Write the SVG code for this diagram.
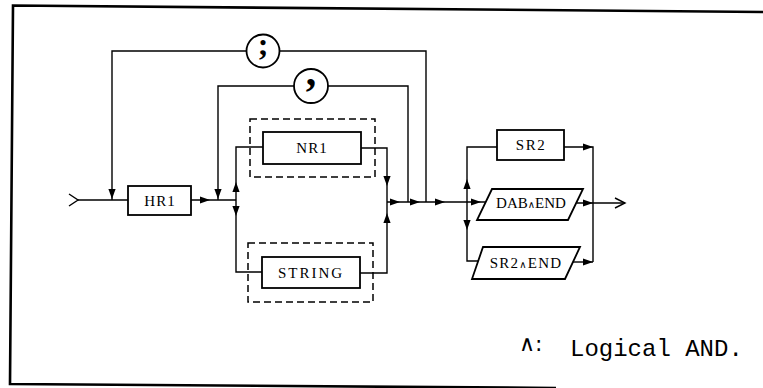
<svg xmlns="http://www.w3.org/2000/svg" xmlns:xlink="http://www.w3.org/1999/xlink" width="763" height="388" viewBox="0 0 763 388">
<style>
.bx{fill:#fff;stroke:#000;stroke-width:1.8}
.ds{fill:none;stroke:#000;stroke-width:1.5;stroke-dasharray:7,4}
.ln{fill:none;stroke:#000;stroke-width:1.4}
.brd{fill:none;stroke:#000;stroke-width:2.6}
.lb{font-family:"Liberation Serif","Times New Roman",serif;font-size:15px;text-anchor:middle;fill:#000}
.sym{font-family:"Liberation Serif","Times New Roman",serif;font-weight:bold;text-anchor:middle;fill:#000}
.and{font-family:"DejaVu Sans",sans-serif;font-size:10px}
.leg{font-family:"Liberation Mono","Courier New",monospace;font-size:24px;fill:#000}
</style>
<defs>
<path id="ah" d="M0,0 L-10,-3.6 L-10,3.6 Z" fill="#000"/>
</defs>
<rect width="763" height="388" fill="#fff"/>
<path class="brd" d="M763,12 L13,5.5 L10,384 L556,388"/>

<g id="connectors">
<path class="ln" d="M69,194 L78,200 L69,206"/>
<path class="ln" d="M78,200 H128"/>
<path class="ln" d="M426,202 V51 H279.5"/>
<path class="ln" d="M246.5,51 H112 V200"/>
<use xlink:href="#ah" transform="translate(112,199) rotate(90)"/>
<path class="ln" d="M408,202 V86 H328"/>
<path class="ln" d="M294,86 H218 V200"/>
<use xlink:href="#ah" transform="translate(218,199) rotate(90)"/>
<path class="ln" d="M191,200 H236"/>
<use xlink:href="#ah" transform="translate(210,200)"/>
<path class="ln" d="M263,147 H236 V272 H262"/>
<use xlink:href="#ah" transform="translate(236,182) rotate(-90)"/>
<use xlink:href="#ah" transform="translate(236,216) rotate(90)"/>
<path class="ln" d="M361,148 H387 V273 H360"/>
<use xlink:href="#ah" transform="translate(387,186) rotate(90)"/>
<use xlink:href="#ah" transform="translate(387,213) rotate(-90)"/>
<path class="ln" d="M387,202 H486"/>
<use xlink:href="#ah" transform="translate(400,202)"/>
<use xlink:href="#ah" transform="translate(420,202)"/>
<use xlink:href="#ah" transform="translate(445,202)"/>
<use xlink:href="#ah" transform="translate(481,202)"/>
<path class="ln" d="M497,147 H467 V261 H478"/>
<use xlink:href="#ah" transform="translate(467,179) rotate(-90)"/>
<use xlink:href="#ah" transform="translate(467,230) rotate(90)"/>
<path class="ln" d="M564,147 H593 V262"/>
<use xlink:href="#ah" transform="translate(593,147)"/>
<path class="ln" d="M577,203 H625"/>
<use xlink:href="#ah" transform="translate(593,203)"/>
<path class="ln" d="M615,198 L625,203 L615,208"/>
<path class="ln" d="M573,262 H593"/>
<use xlink:href="#ah" transform="translate(593,262)"/>
</g>

<g id="semicolon">
<circle class="bx" cx="263" cy="51" r="16.5"/>
<text class="sym" x="263" y="55" font-size="32">;</text>
</g>
<g id="comma">
<circle class="bx" cx="311" cy="86" r="17"/>
<text class="sym" x="311" y="85" font-size="42">,</text>
</g>
<g id="HR1">
<rect class="bx" x="128" y="186" width="63" height="29"/>
<text class="lb" x="160" y="206" letter-spacing="1">HR1</text>
</g>
<g id="NR1">
<rect class="ds" x="250" y="119" width="125" height="58"/>
<rect class="bx" x="263" y="132" width="98" height="32"/>
<text class="lb" x="312" y="153" letter-spacing="1">NR1</text>
</g>
<g id="STRING">
<rect class="ds" x="248" y="243" width="125" height="59"/>
<rect class="bx" x="262" y="257" width="98" height="31"/>
<text class="lb" x="311" y="277.5" letter-spacing="2">STRING</text>
</g>
<g id="SR2">
<rect class="bx" x="497" y="130" width="67" height="30"/>
<text class="lb" x="531" y="150" letter-spacing="1.5">SR2</text>
</g>
<g id="DAB_END">
<polygon class="bx" points="492,189 583,189 568,220 477,220"/>
<text class="lb" x="531" y="208">DAB<tspan class="and">∧</tspan>END</text>
</g>
<g id="SR2_END">
<polygon class="bx" points="483,247 580,247 565,279 472,279"/>
<text class="lb" x="526" y="268" letter-spacing="1.2">SR2<tspan class="and">∧</tspan>END</text>
</g>
<g id="legend">
<text x="519" y="351" font-family="DejaVu Sans,sans-serif" font-size="22">∧:</text>
<text class="leg" x="570" y="356">Logical AND.</text>
</g>
</svg>
